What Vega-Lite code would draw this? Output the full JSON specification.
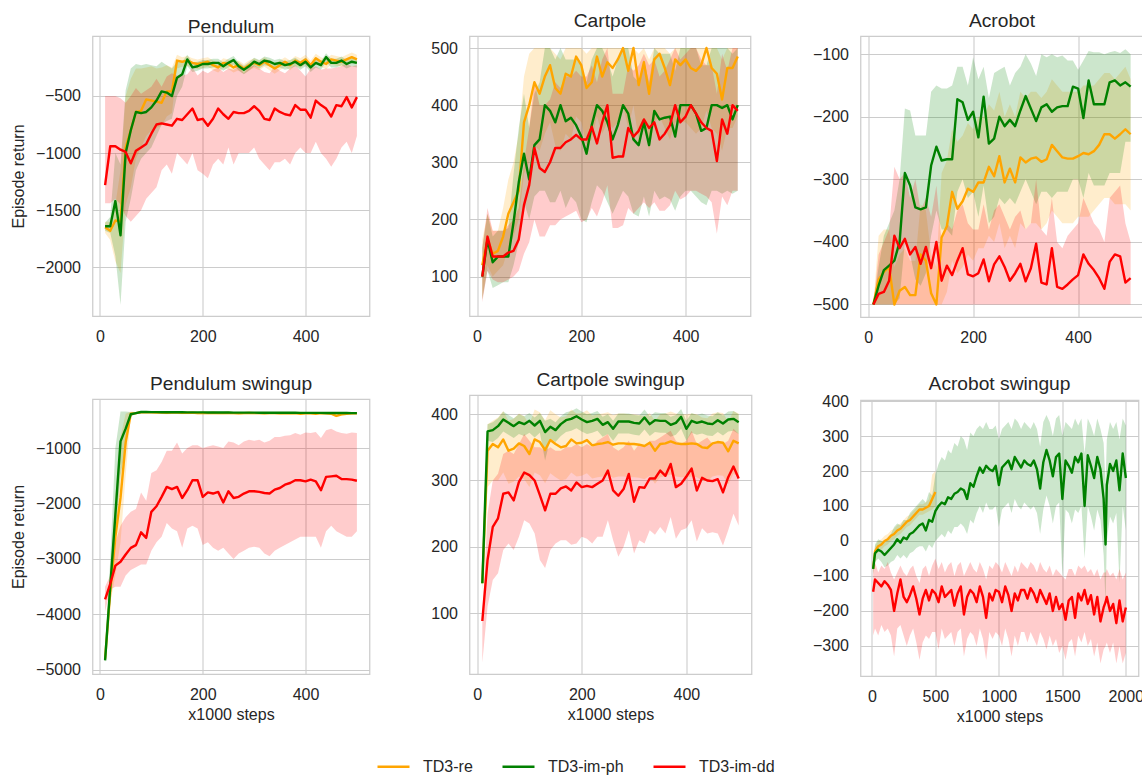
{
"$schema": "https://vega.github.io/schema/vega-lite/v6.json",
"background": "white",
"padding": {"left": 9.5, "top": 11, "right": 0, "bottom": 0},
"config": {
 "font": "Liberation Sans",
 "numberFormat": "d",
 "view": {"stroke": "#cccccc", "strokeWidth": 1.25},
 "axis": {"grid": true, "gridColor": "#cccccc", "gridWidth": 1.1, "domain": false, "ticks": false, "tickSize": 0, "labelOverlap": false, "labelFont": "Liberation Sans", "labelFontSize": 16, "labelColor": "#262626", "labelPadding": 12, "labelFlush": false, "titleFont": "Liberation Sans", "titleFontSize": 16, "titleFontWeight": "normal", "titleColor": "#262626", "titlePadding": 9},
 "axisX": {"titlePadding": 4},
 "title": {"font": "Liberation Sans", "fontSize": 19.2, "fontWeight": "normal", "color": "#262626", "offset": 5, "baseline": "bottom", "frame": "group"},
 "area": {"opacity": 0.2},
 "line": {"strokeWidth": 2.4, "strokeJoin": "round"},
 "legend": {"labelFont": "Liberation Sans", "labelFontSize": 16, "labelColor": "#262626"}
},
"datasets": {
"pend": [
{"x":10,"r":-1650,"rl":-1700,"rh":-1600,"g":-1640,"gl":-1680,"gh":-1610,"d":-1280,"dl":-1440,"dh":-500},
{"x":20,"r":-1680,"rl":-1760,"rh":-1600,"g":-1640,"gl":-1700,"gh":-1560,"d":-940,"dl":-1440,"dh":-500},
{"x":30,"r":-1590,"rl":-1950,"rh":-1450,"g":-1420,"gl":-1900,"gh":-1000,"d":-940,"dl":-1400,"dh":-500},
{"x":40,"r":-1600,"rl":-2050,"rh":-1150,"g":-1720,"gl":-2330,"gh":-1100,"d":-970,"dl":-1450,"dh":-520},
{"x":50,"r":-950,"rl":-1450,"rh":-500,"g":-1000,"gl":-1600,"gh":-450,"d":-990,"dl":-1550,"dh":-560},
{"x":60,"r":-800,"rl":-1300,"rh":-350,"g":-800,"gl":-1400,"gh":-260,"d":-1090,"dl":-1600,"dh":-500},
{"x":70,"r":-640,"rl":-1050,"rh":-260,"g":-640,"gl":-1150,"gh":-220,"d":-980,"dl":-1550,"dh":-430},
{"x":80,"r":-630,"rl":-950,"rh":-260,"g":-650,"gl":-1050,"gh":-230,"d":-950,"dl":-1500,"dh":-480},
{"x":90,"r":-530,"rl":-850,"rh":-250,"g":-640,"gl":-1000,"gh":-220,"d":-920,"dl":-1400,"dh":-450},
{"x":100,"r":-540,"rl":-800,"rh":-240,"g":-600,"gl":-950,"gh":-230,"d":-830,"dl":-1350,"dh":-420},
{"x":110,"r":-550,"rl":-780,"rh":-260,"g":-540,"gl":-850,"gh":-240,"d":-750,"dl":-1300,"dh":-350},
{"x":120,"r":-560,"rl":-760,"rh":-250,"g":-460,"gl":-750,"gh":-200,"d":-740,"dl":-1150,"dh":-420},
{"x":130,"r":-460,"rl":-680,"rh":-230,"g":-470,"gl":-720,"gh":-230,"d":-750,"dl":-1100,"dh":-330},
{"x":140,"r":-460,"rl":-650,"rh":-250,"g":-500,"gl":-700,"gh":-260,"d":-760,"dl":-1180,"dh":-300},
{"x":150,"r":-190,"rl":-260,"rh":-140,"g":-340,"gl":-500,"gh":-200,"d":-700,"dl":-1000,"dh":-320},
{"x":160,"r":-200,"rl":-245,"rh":-160,"g":-310,"gl":-420,"gh":-200,"d":-710,"dl":-1050,"dh":-320},
{"x":170,"r":-190,"rl":-235,"rh":-150,"g":-180,"gl":-240,"gh":-140,"d":-660,"dl":-1100,"dh":-310},
{"x":180,"r":-210,"rl":-255,"rh":-170,"g":-250,"gl":-290,"gh":-210,"d":-610,"dl":-1000,"dh":-250},
{"x":190,"r":-220,"rl":-265,"rh":-180,"g":-240,"gl":-280,"gh":-200,"d":-710,"dl":-1150,"dh":-320},
{"x":200,"r":-210,"rl":-255,"rh":-170,"g":-220,"gl":-260,"gh":-185,"d":-700,"dl":-1180,"dh":-280},
{"x":210,"r":-200,"rl":-245,"rh":-160,"g":-220,"gl":-260,"gh":-185,"d":-760,"dl":-1220,"dh":-300},
{"x":220,"r":-230,"rl":-275,"rh":-190,"g":-210,"gl":-250,"gh":-175,"d":-700,"dl":-1100,"dh":-270},
{"x":230,"r":-250,"rl":-295,"rh":-210,"g":-210,"gl":-250,"gh":-175,"d":-610,"dl":-1050,"dh":-250},
{"x":240,"r":-210,"rl":-255,"rh":-170,"g":-240,"gl":-280,"gh":-205,"d":-660,"dl":-1100,"dh":-290},
{"x":250,"r":-220,"rl":-265,"rh":-180,"g":-210,"gl":-250,"gh":-175,"d":-700,"dl":-950,"dh":-260},
{"x":260,"r":-250,"rl":-295,"rh":-210,"g":-185,"gl":-225,"gh":-150,"d":-640,"dl":-1100,"dh":-270},
{"x":270,"r":-230,"rl":-275,"rh":-190,"g":-240,"gl":-280,"gh":-205,"d":-650,"dl":-1000,"dh":-240},
{"x":280,"r":-260,"rl":-305,"rh":-220,"g":-270,"gl":-310,"gh":-235,"d":-650,"dl":-1000,"dh":-300},
{"x":290,"r":-230,"rl":-275,"rh":-190,"g":-240,"gl":-280,"gh":-205,"d":-630,"dl":-1000,"dh":-250},
{"x":300,"r":-210,"rl":-255,"rh":-170,"g":-200,"gl":-240,"gh":-165,"d":-590,"dl":-950,"dh":-230},
{"x":310,"r":-230,"rl":-275,"rh":-190,"g":-220,"gl":-260,"gh":-185,"d":-630,"dl":-1050,"dh":-260},
{"x":320,"r":-200,"rl":-245,"rh":-160,"g":-190,"gl":-230,"gh":-155,"d":-700,"dl":-1100,"dh":-290},
{"x":330,"r":-230,"rl":-275,"rh":-190,"g":-200,"gl":-240,"gh":-165,"d":-710,"dl":-1150,"dh":-300},
{"x":340,"r":-260,"rl":-305,"rh":-220,"g":-220,"gl":-260,"gh":-185,"d":-610,"dl":-1080,"dh":-240},
{"x":350,"r":-230,"rl":-275,"rh":-190,"g":-210,"gl":-250,"gh":-175,"d":-640,"dl":-1080,"dh":-280},
{"x":360,"r":-200,"rl":-245,"rh":-160,"g":-230,"gl":-270,"gh":-195,"d":-660,"dl":-1050,"dh":-300},
{"x":370,"r":-230,"rl":-275,"rh":-190,"g":-220,"gl":-260,"gh":-185,"d":-670,"dl":-1100,"dh":-260},
{"x":380,"r":-190,"rl":-235,"rh":-150,"g":-200,"gl":-240,"gh":-165,"d":-580,"dl":-1000,"dh":-230},
{"x":390,"r":-210,"rl":-255,"rh":-170,"g":-230,"gl":-270,"gh":-195,"d":-620,"dl":-950,"dh":-280},
{"x":400,"r":-180,"rl":-225,"rh":-140,"g":-200,"gl":-240,"gh":-165,"d":-620,"dl":-1000,"dh":-330},
{"x":410,"r":-230,"rl":-275,"rh":-190,"g":-250,"gl":-290,"gh":-215,"d":-690,"dl":-1000,"dh":-260},
{"x":420,"r":-170,"rl":-215,"rh":-130,"g":-210,"gl":-250,"gh":-175,"d":-540,"dl":-900,"dh":-240},
{"x":430,"r":-200,"rl":-245,"rh":-160,"g":-230,"gl":-270,"gh":-195,"d":-580,"dl":-1000,"dh":-270},
{"x":440,"r":-220,"rl":-265,"rh":-180,"g":-160,"gl":-200,"gh":-125,"d":-610,"dl":-1050,"dh":-260},
{"x":450,"r":-180,"rl":-225,"rh":-140,"g":-210,"gl":-250,"gh":-175,"d":-680,"dl":-1120,"dh":-260},
{"x":460,"r":-190,"rl":-235,"rh":-150,"g":-210,"gl":-250,"gh":-175,"d":-580,"dl":-1050,"dh":-250},
{"x":470,"r":-200,"rl":-245,"rh":-160,"g":-190,"gl":-230,"gh":-155,"d":-590,"dl":-950,"dh":-240},
{"x":480,"r":-180,"rl":-225,"rh":-140,"g":-220,"gl":-260,"gh":-185,"d":-510,"dl":-900,"dh":-220},
{"x":490,"r":-160,"rl":-205,"rh":-120,"g":-200,"gl":-240,"gh":-165,"d":-600,"dl":-1000,"dh":-240},
{"x":500,"r":-180,"rl":-225,"rh":-140,"g":-210,"gl":-250,"gh":-175,"d":-510,"dl":-850,"dh":-230}
],
"cart": [
{"x":10,"r":120,"rl":60,"rh":165,"g":100,"gl":60,"gh":150,"d":100,"dl":55,"dh":150},
{"x":20,"r":165,"rl":120,"rh":210,"g":165,"gl":110,"gh":210,"d":170,"dl":110,"dh":220},
{"x":30,"r":140,"rl":100,"rh":180,"g":125,"gl":80,"gh":170,"d":135,"dl":95,"dh":180},
{"x":40,"r":145,"rl":110,"rh":180,"g":135,"gl":85,"gh":180,"d":135,"dl":90,"dh":180},
{"x":50,"r":170,"rl":120,"rh":220,"g":135,"gl":90,"gh":180,"d":135,"dl":90,"dh":180},
{"x":60,"r":210,"rl":150,"rh":270,"g":135,"gl":90,"gh":185,"d":142,"dl":95,"dh":190},
{"x":70,"r":230,"rl":170,"rh":300,"g":195,"gl":120,"gh":280,"d":145,"dl":100,"dh":200},
{"x":80,"r":250,"rl":200,"rh":350,"g":265,"gl":160,"gh":360,"d":165,"dl":110,"dh":220},
{"x":90,"r":370,"rl":280,"rh":450,"g":315,"gl":230,"gh":420,"d":225,"dl":140,"dh":300},
{"x":100,"r":400,"rl":300,"rh":490,"g":270,"gl":200,"gh":360,"d":260,"dl":160,"dh":360},
{"x":110,"r":440,"rl":330,"rh":500,"g":330,"gl":240,"gh":420,"d":325,"dl":200,"dh":440},
{"x":120,"r":420,"rl":320,"rh":500,"g":340,"gl":250,"gh":440,"d":290,"dl":170,"dh":400},
{"x":130,"r":450,"rl":350,"rh":500,"g":400,"gl":250,"gh":500,"d":283,"dl":170,"dh":400},
{"x":140,"r":470,"rl":370,"rh":500,"g":390,"gl":230,"gh":500,"d":300,"dl":190,"dh":410},
{"x":150,"r":430,"rl":330,"rh":490,"g":370,"gl":230,"gh":480,"d":325,"dl":190,"dh":440},
{"x":160,"r":420,"rl":320,"rh":480,"g":400,"gl":250,"gh":500,"d":325,"dl":200,"dh":430},
{"x":170,"r":455,"rl":350,"rh":500,"g":372,"gl":220,"gh":480,"d":335,"dl":205,"dh":450},
{"x":180,"r":450,"rl":340,"rh":500,"g":378,"gl":240,"gh":480,"d":340,"dl":210,"dh":450},
{"x":190,"r":485,"rl":380,"rh":500,"g":365,"gl":230,"gh":480,"d":348,"dl":215,"dh":460},
{"x":200,"r":470,"rl":370,"rh":500,"g":345,"gl":200,"gh":470,"d":340,"dl":195,"dh":450},
{"x":210,"r":430,"rl":330,"rh":490,"g":315,"gl":195,"gh":440,"d":340,"dl":200,"dh":450},
{"x":220,"r":440,"rl":340,"rh":500,"g":365,"gl":230,"gh":480,"d":362,"dl":220,"dh":470},
{"x":230,"r":485,"rl":380,"rh":500,"g":400,"gl":260,"gh":500,"d":333,"dl":205,"dh":440},
{"x":240,"r":450,"rl":350,"rh":500,"g":390,"gl":250,"gh":500,"d":370,"dl":230,"dh":480},
{"x":250,"r":475,"rl":370,"rh":500,"g":370,"gl":230,"gh":480,"d":400,"dl":260,"dh":500},
{"x":260,"r":465,"rl":360,"rh":500,"g":340,"gl":210,"gh":450,"d":308,"dl":185,"dh":420},
{"x":270,"r":480,"rl":370,"rh":500,"g":365,"gl":230,"gh":480,"d":310,"dl":185,"dh":420},
{"x":280,"r":500,"rl":400,"rh":500,"g":400,"gl":250,"gh":500,"d":310,"dl":190,"dh":420},
{"x":290,"r":460,"rl":360,"rh":500,"g":385,"gl":240,"gh":500,"d":360,"dl":220,"dh":470},
{"x":300,"r":500,"rl":400,"rh":500,"g":340,"gl":210,"gh":450,"d":345,"dl":210,"dh":460},
{"x":310,"r":435,"rl":340,"rh":490,"g":330,"gl":205,"gh":440,"d":355,"dl":220,"dh":470},
{"x":320,"r":475,"rl":370,"rh":500,"g":370,"gl":240,"gh":480,"d":375,"dl":230,"dh":490},
{"x":330,"r":420,"rl":320,"rh":480,"g":330,"gl":205,"gh":440,"d":360,"dl":220,"dh":470},
{"x":340,"r":480,"rl":370,"rh":500,"g":390,"gl":250,"gh":500,"d":370,"dl":230,"dh":480},
{"x":350,"r":490,"rl":380,"rh":500,"g":375,"gl":235,"gh":490,"d":340,"dl":215,"dh":450},
{"x":360,"r":465,"rl":360,"rh":500,"g":378,"gl":240,"gh":490,"d":350,"dl":215,"dh":460},
{"x":370,"r":435,"rl":340,"rh":490,"g":380,"gl":235,"gh":490,"d":365,"dl":225,"dh":480},
{"x":380,"r":480,"rl":370,"rh":500,"g":345,"gl":215,"gh":460,"d":400,"dl":250,"dh":500},
{"x":390,"r":470,"rl":370,"rh":500,"g":400,"gl":240,"gh":500,"d":370,"dl":235,"dh":480},
{"x":400,"r":480,"rl":370,"rh":500,"g":400,"gl":250,"gh":500,"d":380,"dl":240,"dh":490},
{"x":410,"r":465,"rl":360,"rh":500,"g":400,"gl":250,"gh":500,"d":400,"dl":250,"dh":500},
{"x":420,"r":460,"rl":350,"rh":500,"g":385,"gl":240,"gh":500,"d":385,"dl":250,"dh":500},
{"x":430,"r":470,"rl":360,"rh":500,"g":355,"gl":230,"gh":470,"d":370,"dl":245,"dh":480},
{"x":440,"r":500,"rl":390,"rh":500,"g":360,"gl":225,"gh":470,"d":360,"dl":240,"dh":470},
{"x":450,"r":465,"rl":360,"rh":500,"g":400,"gl":250,"gh":500,"d":355,"dl":230,"dh":470},
{"x":460,"r":455,"rl":350,"rh":500,"g":400,"gl":250,"gh":500,"d":302,"dl":175,"dh":420},
{"x":470,"r":410,"rl":320,"rh":480,"g":395,"gl":245,"gh":500,"d":375,"dl":240,"dh":490},
{"x":480,"r":465,"rl":360,"rh":500,"g":400,"gl":250,"gh":500,"d":350,"dl":225,"dh":460},
{"x":490,"r":465,"rl":360,"rh":500,"g":375,"gl":245,"gh":490,"d":400,"dl":250,"dh":500},
{"x":500,"r":485,"rl":380,"rh":500,"g":400,"gl":250,"gh":500,"d":390,"dl":250,"dh":500}
],
"acro": [
{"x":10,"r":-500,"rl":-500,"rh":-500,"g":-500,"gl":-500,"gh":-500,"d":-500,"dl":-500,"dh":-500},
{"x":20,"r":-460,"rl":-500,"rh":-390,"g":-470,"gl":-500,"gh":-440,"d":-483,"dl":-500,"dh":-420},
{"x":30,"r":-448,"rl":-500,"rh":-380,"g":-445,"gl":-500,"gh":-390,"d":-480,"dl":-500,"dh":-400},
{"x":40,"r":-440,"rl":-500,"rh":-380,"g":-438,"gl":-500,"gh":-370,"d":-462,"dl":-500,"dh":-380},
{"x":50,"r":-500,"rl":-500,"rh":-440,"g":-430,"gl":-500,"gh":-350,"d":-390,"dl":-500,"dh":-280},
{"x":60,"r":-478,"rl":-500,"rh":-420,"g":-400,"gl":-490,"gh":-300,"d":-410,"dl":-500,"dh":-300},
{"x":70,"r":-472,"rl":-500,"rh":-410,"g":-290,"gl":-400,"gh":-187,"d":-395,"dl":-500,"dh":-290},
{"x":80,"r":-485,"rl":-500,"rh":-430,"g":-310,"gl":-420,"gh":-190,"d":-420,"dl":-500,"dh":-330},
{"x":90,"r":-485,"rl":-500,"rh":-430,"g":-345,"gl":-460,"gh":-230,"d":-408,"dl":-500,"dh":-300},
{"x":100,"r":-420,"rl":-500,"rh":-340,"g":-348,"gl":-470,"gh":-230,"d":-435,"dl":-500,"dh":-350},
{"x":110,"r":-430,"rl":-500,"rh":-350,"g":-345,"gl":-450,"gh":-230,"d":-408,"dl":-500,"dh":-330},
{"x":120,"r":-482,"rl":-500,"rh":-420,"g":-278,"gl":-390,"gh":-160,"d":-442,"dl":-500,"dh":-360},
{"x":130,"r":-500,"rl":-500,"rh":-440,"g":-248,"gl":-350,"gh":-150,"d":-400,"dl":-500,"dh":-310},
{"x":140,"r":-393,"rl":-500,"rh":-290,"g":-270,"gl":-380,"gh":-155,"d":-462,"dl":-500,"dh":-400},
{"x":150,"r":-375,"rl":-480,"rh":-270,"g":-268,"gl":-380,"gh":-155,"d":-438,"dl":-500,"dh":-370},
{"x":160,"r":-320,"rl":-430,"rh":-220,"g":-268,"gl":-390,"gh":-150,"d":-453,"dl":-500,"dh":-380},
{"x":170,"r":-347,"rl":-450,"rh":-240,"g":-172,"gl":-320,"gh":-120,"d":-430,"dl":-500,"dh":-350},
{"x":180,"r":-335,"rl":-440,"rh":-230,"g":-177,"gl":-300,"gh":-120,"d":-410,"dl":-500,"dh":-340},
{"x":190,"r":-315,"rl":-420,"rh":-210,"g":-205,"gl":-330,"gh":-150,"d":-452,"dl":-500,"dh":-370},
{"x":200,"r":-320,"rl":-430,"rh":-220,"g":-192,"gl":-320,"gh":-105,"d":-455,"dl":-500,"dh":-380},
{"x":210,"r":-305,"rl":-410,"rh":-200,"g":-233,"gl":-360,"gh":-140,"d":-450,"dl":-500,"dh":-380},
{"x":220,"r":-305,"rl":-410,"rh":-200,"g":-168,"gl":-310,"gh":-120,"d":-428,"dl":-500,"dh":-340},
{"x":230,"r":-280,"rl":-390,"rh":-180,"g":-243,"gl":-370,"gh":-170,"d":-463,"dl":-500,"dh":-380},
{"x":240,"r":-295,"rl":-400,"rh":-190,"g":-235,"gl":-360,"gh":-130,"d":-436,"dl":-500,"dh":-350},
{"x":250,"r":-263,"rl":-370,"rh":-160,"g":-200,"gl":-330,"gh":-125,"d":-423,"dl":-500,"dh":-340},
{"x":260,"r":-305,"rl":-410,"rh":-200,"g":-215,"gl":-340,"gh":-120,"d":-440,"dl":-500,"dh":-360},
{"x":270,"r":-283,"rl":-390,"rh":-180,"g":-205,"gl":-330,"gh":-150,"d":-462,"dl":-500,"dh":-380},
{"x":280,"r":-305,"rl":-410,"rh":-200,"g":-215,"gl":-340,"gh":-130,"d":-450,"dl":-500,"dh":-360},
{"x":290,"r":-265,"rl":-370,"rh":-160,"g":-190,"gl":-320,"gh":-120,"d":-435,"dl":-500,"dh":-350},
{"x":300,"r":-273,"rl":-380,"rh":-170,"g":-167,"gl":-300,"gh":-100,"d":-463,"dl":-500,"dh":-380},
{"x":310,"r":-267,"rl":-370,"rh":-160,"g":-187,"gl":-320,"gh":-115,"d":-442,"dl":-500,"dh":-370},
{"x":320,"r":-265,"rl":-370,"rh":-160,"g":-207,"gl":-340,"gh":-135,"d":-403,"dl":-500,"dh":-300},
{"x":330,"r":-272,"rl":-380,"rh":-170,"g":-185,"gl":-320,"gh":-100,"d":-465,"dl":-500,"dh":-380},
{"x":340,"r":-268,"rl":-370,"rh":-160,"g":-180,"gl":-320,"gh":-105,"d":-468,"dl":-500,"dh":-390},
{"x":350,"r":-245,"rl":-350,"rh":-140,"g":-192,"gl":-330,"gh":-100,"d":-410,"dl":-500,"dh":-330},
{"x":360,"r":-255,"rl":-360,"rh":-150,"g":-185,"gl":-320,"gh":-105,"d":-472,"dl":-500,"dh":-400},
{"x":370,"r":-265,"rl":-370,"rh":-160,"g":-183,"gl":-320,"gh":-102,"d":-475,"dl":-500,"dh":-410},
{"x":380,"r":-267,"rl":-370,"rh":-160,"g":-183,"gl":-320,"gh":-110,"d":-468,"dl":-500,"dh":-390},
{"x":390,"r":-267,"rl":-370,"rh":-160,"g":-152,"gl":-300,"gh":-110,"d":-460,"dl":-500,"dh":-380},
{"x":400,"r":-263,"rl":-360,"rh":-160,"g":-155,"gl":-300,"gh":-125,"d":-453,"dl":-500,"dh":-370},
{"x":410,"r":-258,"rl":-360,"rh":-150,"g":-202,"gl":-330,"gh":-110,"d":-420,"dl":-500,"dh":-330},
{"x":420,"r":-260,"rl":-360,"rh":-150,"g":-142,"gl":-290,"gh":-95,"d":-435,"dl":-500,"dh":-350},
{"x":430,"r":-255,"rl":-350,"rh":-150,"g":-180,"gl":-310,"gh":-97,"d":-445,"dl":-500,"dh":-370},
{"x":440,"r":-245,"rl":-340,"rh":-140,"g":-180,"gl":-310,"gh":-97,"d":-458,"dl":-500,"dh":-380},
{"x":450,"r":-228,"rl":-330,"rh":-130,"g":-180,"gl":-310,"gh":-100,"d":-475,"dl":-500,"dh":-400},
{"x":460,"r":-228,"rl":-330,"rh":-130,"g":-145,"gl":-290,"gh":-97,"d":-432,"dl":-500,"dh":-330},
{"x":470,"r":-235,"rl":-340,"rh":-140,"g":-142,"gl":-290,"gh":-95,"d":-420,"dl":-500,"dh":-320},
{"x":480,"r":-228,"rl":-340,"rh":-130,"g":-150,"gl":-290,"gh":-98,"d":-423,"dl":-500,"dh":-310},
{"x":490,"r":-220,"rl":-340,"rh":-120,"g":-145,"gl":-240,"gh":-92,"d":-465,"dl":-500,"dh":-370},
{"x":500,"r":-228,"rl":-350,"rh":-140,"g":-152,"gl":-240,"gh":-100,"d":-458,"dl":-500,"dh":-400}
],
"pswing": [
{"x":10,"r":-4800,"rl":-4850,"rh":-4750,"g":-4830,"gl":-4870,"gh":-4800,"d":-3730,"dl":-3950,"dh":-3500},
{"x":20,"r":-3600,"rl":-3800,"rh":-3300,"g":-3500,"gl":-3800,"gh":-3000,"d":-3450,"dl":-3550,"dh":-3300},
{"x":30,"r":-2600,"rl":-3300,"rh":-1900,"g":-2200,"gl":-2600,"gh":-1000,"d":-3120,"dl":-3500,"dh":-2700},
{"x":40,"r":-1900,"rl":-2700,"rh":-800,"g":-880,"gl":-1500,"gh":-340,"d":-3050,"dl":-3500,"dh":-2400},
{"x":50,"r":-900,"rl":-1500,"rh":-380,"g":-650,"gl":-1000,"gh":-340,"d":-2920,"dl":-3300,"dh":-2250},
{"x":60,"r":-380,"rl":-400,"rh":-340,"g":-390,"gl":-420,"gh":-350,"d":-2800,"dl":-3200,"dh":-2150},
{"x":70,"r":-370,"rl":-390,"rh":-350,"g":-370,"gl":-390,"gh":-350,"d":-2750,"dl":-3150,"dh":-2100},
{"x":80,"r":-355,"rl":-375,"rh":-335,"g":-350,"gl":-365,"gh":-335,"d":-2520,"dl":-3100,"dh":-1800},
{"x":90,"r":-355,"rl":-375,"rh":-335,"g":-350,"gl":-365,"gh":-335,"d":-2620,"dl":-3100,"dh":-1950},
{"x":100,"r":-355,"rl":-380,"rh":-335,"g":-352,"gl":-367,"gh":-340,"d":-2150,"dl":-2850,"dh":-1450},
{"x":110,"r":-360,"rl":-385,"rh":-340,"g":-352,"gl":-367,"gh":-340,"d":-2050,"dl":-2700,"dh":-1400},
{"x":120,"r":-360,"rl":-385,"rh":-340,"g":-353,"gl":-368,"gh":-341,"d":-1880,"dl":-2600,"dh":-1250},
{"x":130,"r":-365,"rl":-390,"rh":-345,"g":-353,"gl":-368,"gh":-341,"d":-1700,"dl":-2350,"dh":-1050},
{"x":140,"r":-360,"rl":-385,"rh":-340,"g":-354,"gl":-369,"gh":-342,"d":-1740,"dl":-2450,"dh":-1050},
{"x":150,"r":-360,"rl":-385,"rh":-340,"g":-355,"gl":-370,"gh":-343,"d":-1700,"dl":-2500,"dh":-900},
{"x":160,"r":-365,"rl":-390,"rh":-345,"g":-355,"gl":-370,"gh":-343,"d":-1900,"dl":-2800,"dh":-1100},
{"x":170,"r":-365,"rl":-390,"rh":-345,"g":-356,"gl":-371,"gh":-344,"d":-1760,"dl":-2450,"dh":-1000},
{"x":180,"r":-360,"rl":-385,"rh":-340,"g":-356,"gl":-371,"gh":-344,"d":-1580,"dl":-2400,"dh":-950},
{"x":190,"r":-370,"rl":-395,"rh":-350,"g":-357,"gl":-372,"gh":-345,"d":-1580,"dl":-2450,"dh":-950},
{"x":200,"r":-365,"rl":-390,"rh":-345,"g":-357,"gl":-372,"gh":-345,"d":-1880,"dl":-2750,"dh":-1000},
{"x":210,"r":-370,"rl":-395,"rh":-350,"g":-358,"gl":-373,"gh":-346,"d":-1800,"dl":-2700,"dh":-970},
{"x":220,"r":-365,"rl":-390,"rh":-345,"g":-358,"gl":-373,"gh":-346,"d":-1820,"dl":-2800,"dh":-950},
{"x":230,"r":-370,"rl":-395,"rh":-350,"g":-358,"gl":-373,"gh":-346,"d":-1790,"dl":-2850,"dh":-970},
{"x":240,"r":-370,"rl":-395,"rh":-350,"g":-359,"gl":-374,"gh":-347,"d":-1980,"dl":-2800,"dh":-1000},
{"x":250,"r":-365,"rl":-390,"rh":-345,"g":-359,"gl":-374,"gh":-347,"d":-1780,"dl":-2900,"dh":-880},
{"x":260,"r":-370,"rl":-395,"rh":-350,"g":-360,"gl":-375,"gh":-348,"d":-1900,"dl":-3000,"dh":-900},
{"x":270,"r":-375,"rl":-400,"rh":-355,"g":-360,"gl":-375,"gh":-348,"d":-1880,"dl":-2900,"dh":-950},
{"x":280,"r":-370,"rl":-395,"rh":-350,"g":-360,"gl":-375,"gh":-348,"d":-1820,"dl":-2850,"dh":-880},
{"x":290,"r":-365,"rl":-390,"rh":-345,"g":-361,"gl":-376,"gh":-349,"d":-1780,"dl":-2800,"dh":-850},
{"x":300,"r":-370,"rl":-395,"rh":-350,"g":-361,"gl":-376,"gh":-349,"d":-1780,"dl":-2780,"dh":-870},
{"x":310,"r":-370,"rl":-395,"rh":-350,"g":-362,"gl":-377,"gh":-350,"d":-1790,"dl":-2800,"dh":-850},
{"x":320,"r":-375,"rl":-400,"rh":-355,"g":-362,"gl":-377,"gh":-350,"d":-1810,"dl":-2900,"dh":-900},
{"x":330,"r":-370,"rl":-395,"rh":-350,"g":-362,"gl":-377,"gh":-350,"d":-1820,"dl":-2950,"dh":-870},
{"x":340,"r":-370,"rl":-395,"rh":-350,"g":-363,"gl":-378,"gh":-351,"d":-1750,"dl":-2850,"dh":-800},
{"x":350,"r":-375,"rl":-400,"rh":-355,"g":-363,"gl":-378,"gh":-351,"d":-1720,"dl":-2800,"dh":-800},
{"x":360,"r":-370,"rl":-395,"rh":-350,"g":-364,"gl":-379,"gh":-352,"d":-1660,"dl":-2750,"dh":-780},
{"x":370,"r":-375,"rl":-400,"rh":-355,"g":-364,"gl":-379,"gh":-352,"d":-1630,"dl":-2700,"dh":-770},
{"x":380,"r":-370,"rl":-395,"rh":-350,"g":-364,"gl":-379,"gh":-352,"d":-1580,"dl":-2650,"dh":-730},
{"x":390,"r":-380,"rl":-405,"rh":-360,"g":-365,"gl":-380,"gh":-353,"d":-1580,"dl":-2600,"dh":-760},
{"x":400,"r":-375,"rl":-400,"rh":-355,"g":-365,"gl":-380,"gh":-353,"d":-1600,"dl":-2600,"dh":-720},
{"x":410,"r":-375,"rl":-400,"rh":-355,"g":-366,"gl":-381,"gh":-354,"d":-1570,"dl":-2600,"dh":-730},
{"x":420,"r":-380,"rl":-405,"rh":-360,"g":-366,"gl":-381,"gh":-354,"d":-1600,"dl":-2600,"dh":-710},
{"x":430,"r":-370,"rl":-395,"rh":-350,"g":-366,"gl":-381,"gh":-354,"d":-1760,"dl":-2800,"dh":-820},
{"x":440,"r":-375,"rl":-400,"rh":-355,"g":-367,"gl":-382,"gh":-355,"d":-1520,"dl":-2500,"dh":-680},
{"x":450,"r":-380,"rl":-405,"rh":-360,"g":-367,"gl":-382,"gh":-355,"d":-1510,"dl":-2400,"dh":-650},
{"x":460,"r":-420,"rl":-445,"rh":-400,"g":-368,"gl":-383,"gh":-356,"d":-1500,"dl":-2500,"dh":-700},
{"x":470,"r":-390,"rl":-415,"rh":-370,"g":-368,"gl":-383,"gh":-356,"d":-1560,"dl":-2550,"dh":-730},
{"x":480,"r":-380,"rl":-405,"rh":-360,"g":-368,"gl":-383,"gh":-356,"d":-1560,"dl":-2600,"dh":-740},
{"x":490,"r":-375,"rl":-400,"rh":-355,"g":-369,"gl":-384,"gh":-357,"d":-1570,"dl":-2600,"dh":-720},
{"x":500,"r":-375,"rl":-400,"rh":-355,"g":-370,"gl":-385,"gh":-358,"d":-1590,"dl":-2500,"dh":-730}
],
"cswing": [
{"x":10,"r":145,"rl":130,"rh":160,"g":145,"gl":135,"gh":160,"d":88,"dl":25,"dh":95},
{"x":20,"r":345,"rl":290,"rh":385,"g":374,"gl":360,"gh":385,"d":180,"dl":110,"dh":250},
{"x":30,"r":355,"rl":300,"rh":390,"g":376,"gl":358,"gh":388,"d":230,"dl":150,"dh":300},
{"x":40,"r":350,"rl":300,"rh":395,"g":382,"gl":364,"gh":394,"d":243,"dl":160,"dh":310},
{"x":50,"r":362,"rl":312,"rh":405,"g":392,"gl":374,"gh":404,"d":280,"dl":195,"dh":340},
{"x":60,"r":345,"rl":295,"rh":390,"g":387,"gl":369,"gh":399,"d":282,"dl":205,"dh":345},
{"x":70,"r":348,"rl":298,"rh":393,"g":382,"gl":364,"gh":394,"d":270,"dl":195,"dh":340},
{"x":80,"r":356,"rl":306,"rh":401,"g":388,"gl":370,"gh":400,"d":298,"dl":215,"dh":355},
{"x":90,"r":352,"rl":302,"rh":397,"g":385,"gl":367,"gh":397,"d":312,"dl":240,"dh":370},
{"x":100,"r":340,"rl":290,"rh":385,"g":390,"gl":372,"gh":402,"d":308,"dl":235,"dh":360},
{"x":110,"r":362,"rl":312,"rh":407,"g":383,"gl":365,"gh":395,"d":300,"dl":220,"dh":350},
{"x":120,"r":358,"rl":308,"rh":403,"g":390,"gl":372,"gh":402,"d":278,"dl":180,"dh":350},
{"x":130,"r":346,"rl":296,"rh":391,"g":373,"gl":330,"gh":390,"d":255,"dl":168,"dh":345},
{"x":140,"r":361,"rl":311,"rh":406,"g":381,"gl":363,"gh":393,"d":280,"dl":195,"dh":350},
{"x":150,"r":355,"rl":305,"rh":400,"g":376,"gl":358,"gh":388,"d":280,"dl":205,"dh":345},
{"x":160,"r":350,"rl":300,"rh":395,"g":385,"gl":367,"gh":397,"d":288,"dl":210,"dh":345},
{"x":170,"r":352,"rl":302,"rh":397,"g":391,"gl":373,"gh":403,"d":291,"dl":210,"dh":350},
{"x":180,"r":362,"rl":312,"rh":407,"g":393,"gl":375,"gh":405,"d":285,"dl":203,"dh":350},
{"x":190,"r":356,"rl":306,"rh":401,"g":397,"gl":379,"gh":409,"d":297,"dl":205,"dh":355},
{"x":200,"r":357,"rl":307,"rh":402,"g":392,"gl":374,"gh":404,"d":290,"dl":215,"dh":350},
{"x":210,"r":361,"rl":311,"rh":406,"g":388,"gl":370,"gh":400,"d":292,"dl":212,"dh":355},
{"x":220,"r":353,"rl":303,"rh":398,"g":390,"gl":372,"gh":402,"d":290,"dl":205,"dh":350},
{"x":230,"r":355,"rl":305,"rh":400,"g":393,"gl":375,"gh":405,"d":295,"dl":215,"dh":360},
{"x":240,"r":356,"rl":306,"rh":401,"g":384,"gl":366,"gh":396,"d":300,"dl":215,"dh":365},
{"x":250,"r":358,"rl":308,"rh":403,"g":388,"gl":370,"gh":400,"d":315,"dl":240,"dh":370},
{"x":260,"r":354,"rl":304,"rh":399,"g":378,"gl":360,"gh":390,"d":285,"dl":210,"dh":350},
{"x":270,"r":356,"rl":306,"rh":401,"g":389,"gl":371,"gh":401,"d":277,"dl":185,"dh":345},
{"x":280,"r":356,"rl":306,"rh":401,"g":389,"gl":371,"gh":401,"d":287,"dl":200,"dh":350},
{"x":290,"r":355,"rl":305,"rh":400,"g":389,"gl":371,"gh":401,"d":310,"dl":225,"dh":360},
{"x":300,"r":355,"rl":305,"rh":400,"g":387,"gl":369,"gh":399,"d":268,"dl":190,"dh":345},
{"x":310,"r":354,"rl":304,"rh":399,"g":386,"gl":368,"gh":398,"d":290,"dl":210,"dh":355},
{"x":320,"r":352,"rl":302,"rh":397,"g":395,"gl":377,"gh":407,"d":289,"dl":205,"dh":350},
{"x":330,"r":357,"rl":307,"rh":402,"g":385,"gl":367,"gh":397,"d":303,"dl":225,"dh":360},
{"x":340,"r":345,"rl":295,"rh":390,"g":391,"gl":373,"gh":403,"d":303,"dl":218,"dh":360},
{"x":350,"r":355,"rl":305,"rh":400,"g":390,"gl":372,"gh":402,"d":315,"dl":230,"dh":365},
{"x":360,"r":356,"rl":306,"rh":401,"g":390,"gl":372,"gh":402,"d":307,"dl":220,"dh":370},
{"x":370,"r":359,"rl":309,"rh":404,"g":384,"gl":366,"gh":396,"d":325,"dl":245,"dh":375},
{"x":380,"r":356,"rl":306,"rh":401,"g":387,"gl":369,"gh":399,"d":290,"dl":212,"dh":360},
{"x":390,"r":355,"rl":305,"rh":400,"g":396,"gl":378,"gh":408,"d":295,"dl":225,"dh":355},
{"x":400,"r":355,"rl":305,"rh":400,"g":378,"gl":360,"gh":390,"d":306,"dl":228,"dh":360},
{"x":410,"r":356,"rl":306,"rh":401,"g":390,"gl":372,"gh":402,"d":318,"dl":240,"dh":375},
{"x":420,"r":355,"rl":305,"rh":400,"g":387,"gl":369,"gh":399,"d":285,"dl":208,"dh":355},
{"x":430,"r":350,"rl":300,"rh":395,"g":389,"gl":371,"gh":401,"d":304,"dl":228,"dh":360},
{"x":440,"r":349,"rl":299,"rh":394,"g":386,"gl":368,"gh":398,"d":300,"dl":220,"dh":365},
{"x":450,"r":356,"rl":306,"rh":401,"g":385,"gl":367,"gh":397,"d":299,"dl":222,"dh":355},
{"x":460,"r":358,"rl":308,"rh":403,"g":391,"gl":373,"gh":403,"d":302,"dl":220,"dh":360},
{"x":470,"r":357,"rl":307,"rh":402,"g":386,"gl":368,"gh":398,"d":282,"dl":202,"dh":355},
{"x":480,"r":344,"rl":294,"rh":389,"g":392,"gl":374,"gh":404,"d":305,"dl":225,"dh":360},
{"x":490,"r":360,"rl":310,"rh":405,"g":393,"gl":375,"gh":405,"d":321,"dl":250,"dh":378},
{"x":500,"r":356,"rl":306,"rh":401,"g":388,"gl":370,"gh":400,"d":303,"dl":232,"dh":370}
],
"aswing": [
{"x":10,"r":-80,"rl":-95,"rh":-60,"g":-80,"gl":-95,"gh":-60,"d":-145,"dl":-270,"dh":-80},
{"x":25,"r":-30,"rl":-45,"rh":-15,"g":-35,"gl":-60,"gh":-10,"d":-110,"dl":-250,"dh":-60},
{"x":50,"r":-15,"rl":-30,"rh":0,"g":-25,"gl":-50,"gh":5,"d":-120,"dl":-270,"dh":-90},
{"x":75,"r":-10,"rl":-25,"rh":5,"g":-30,"gl":-60,"gh":0,"d":-130,"dl":-240,"dh":-70},
{"x":100,"r":0,"rl":-15,"rh":15,"g":-40,"gl":-75,"gh":-5,"d":-115,"dl":-260,"dh":-80},
{"x":125,"r":5,"rl":-10,"rh":20,"g":-30,"gl":-70,"gh":10,"d":-125,"dl":-250,"dh":-60},
{"x":150,"r":15,"rl":0,"rh":30,"g":-20,"gl":-60,"gh":20,"d":-140,"dl":-270,"dh":-90},
{"x":175,"r":20,"rl":5,"rh":35,"g":-10,"gl":-55,"gh":40,"d":-200,"dl":-330,"dh":-110},
{"x":200,"r":30,"rl":15,"rh":45,"g":5,"gl":-40,"gh":50,"d":-150,"dl":-250,"dh":-90},
{"x":225,"r":35,"rl":20,"rh":50,"g":-5,"gl":-50,"gh":45,"d":-110,"dl":-240,"dh":-70},
{"x":250,"r":45,"rl":30,"rh":60,"g":10,"gl":-40,"gh":60,"d":-160,"dl":-270,"dh":-90},
{"x":275,"r":55,"rl":40,"rh":70,"g":5,"gl":-50,"gh":60,"d":-175,"dl":-300,"dh":-100},
{"x":300,"r":60,"rl":45,"rh":75,"g":20,"gl":-35,"gh":80,"d":-155,"dl":-270,"dh":-80},
{"x":325,"r":70,"rl":55,"rh":85,"g":25,"gl":-30,"gh":90,"d":-130,"dl":-250,"dh":-70},
{"x":350,"r":80,"rl":65,"rh":95,"g":35,"gl":-20,"gh":100,"d":-165,"dl":-290,"dh":-100},
{"x":375,"r":90,"rl":75,"rh":105,"g":45,"gl":-15,"gh":110,"d":-210,"dl":-340,"dh":-120},
{"x":400,"r":90,"rl":75,"rh":105,"g":50,"gl":-15,"gh":120,"d":-165,"dl":-290,"dh":-80},
{"x":425,"r":95,"rl":80,"rh":110,"g":30,"gl":-30,"gh":110,"d":-140,"dl":-270,"dh":-70},
{"x":450,"r":100,"rl":85,"rh":120,"g":60,"gl":-10,"gh":140,"d":-170,"dl":-280,"dh":-100},
{"x":475,"r":120,"rl":90,"rh":190,"g":55,"gl":-20,"gh":130,"d":-140,"dl":-260,"dh":-70},
{"x":500,"r":140,"rl":100,"rh":200,"g":85,"gl":0,"gh":190,"d":-150,"dl":-260,"dh":-50},
{"x":525,"g":100,"gl":10,"gh":220,"d":-175,"dl":-310,"dh":-80},
{"x":550,"g":110,"gl":20,"gh":240,"d":-130,"dl":-250,"dh":-60},
{"x":575,"g":105,"gl":10,"gh":230,"d":-160,"dl":-280,"dh":-90},
{"x":600,"g":125,"gl":30,"gh":260,"d":-150,"dl":-270,"dh":-70},
{"x":625,"g":120,"gl":20,"gh":250,"d":-140,"dl":-260,"dh":-60},
{"x":650,"g":135,"gl":40,"gh":280,"d":-185,"dl":-300,"dh":-100},
{"x":675,"g":140,"gl":40,"gh":270,"d":-150,"dl":-260,"dh":-70},
{"x":700,"g":150,"gl":50,"gh":300,"d":-130,"dl":-250,"dh":-60},
{"x":725,"g":145,"gl":40,"gh":290,"d":-210,"dl":-330,"dh":-100},
{"x":750,"g":120,"gl":20,"gh":260,"d":-160,"dl":-280,"dh":-80},
{"x":775,"g":165,"gl":60,"gh":310,"d":-140,"dl":-260,"dh":-60},
{"x":800,"g":155,"gl":50,"gh":300,"d":-150,"dl":-270,"dh":-80},
{"x":825,"g":185,"gl":80,"gh":320,"d":-175,"dl":-300,"dh":-90},
{"x":850,"g":210,"gl":100,"gh":330,"d":-130,"dl":-250,"dh":-60},
{"x":875,"g":195,"gl":80,"gh":320,"d":-160,"dl":-280,"dh":-80},
{"x":900,"g":215,"gl":110,"gh":340,"d":-220,"dl":-340,"dh":-110},
{"x":925,"g":205,"gl":90,"gh":320,"d":-150,"dl":-260,"dh":-70},
{"x":950,"g":200,"gl":90,"gh":320,"d":-170,"dl":-280,"dh":-80},
{"x":975,"g":215,"gl":100,"gh":330,"d":-140,"dl":-260,"dh":-60},
{"x":1000,"g":160,"gl":40,"gh":290,"d":-145,"dl":-270,"dh":-70},
{"x":1025,"g":210,"gl":90,"gh":320,"d":-175,"dl":-300,"dh":-90},
{"x":1050,"g":220,"gl":100,"gh":330,"d":-130,"dl":-250,"dh":-60},
{"x":1075,"g":230,"gl":110,"gh":340,"d":-155,"dl":-280,"dh":-80},
{"x":1100,"g":205,"gl":80,"gh":320,"d":-200,"dl":-330,"dh":-100},
{"x":1125,"g":240,"gl":120,"gh":350,"d":-150,"dl":-270,"dh":-70},
{"x":1150,"g":225,"gl":100,"gh":340,"d":-170,"dl":-300,"dh":-90},
{"x":1175,"g":210,"gl":90,"gh":320,"d":-140,"dl":-260,"dh":-60},
{"x":1200,"g":230,"gl":110,"gh":340,"d":-140,"dl":-260,"dh":-70},
{"x":1225,"g":220,"gl":100,"gh":330,"d":-165,"dl":-290,"dh":-80},
{"x":1250,"g":215,"gl":90,"gh":320,"d":-135,"dl":-260,"dh":-60},
{"x":1275,"g":230,"gl":100,"gh":340,"d":-150,"dl":-280,"dh":-70},
{"x":1300,"g":205,"gl":80,"gh":320,"d":-175,"dl":-300,"dh":-90},
{"x":1325,"g":150,"gl":20,"gh":270,"d":-140,"dl":-260,"dh":-60},
{"x":1350,"g":225,"gl":90,"gh":340,"d":-160,"dl":-280,"dh":-80},
{"x":1375,"g":260,"gl":130,"gh":360,"d":-180,"dl":-310,"dh":-90},
{"x":1400,"g":230,"gl":100,"gh":340,"d":-150,"dl":-270,"dh":-70},
{"x":1425,"g":185,"gl":50,"gh":300,"d":-200,"dl":-300,"dh":-100},
{"x":1450,"g":240,"gl":100,"gh":350,"d":-160,"dl":-280,"dh":-80},
{"x":1475,"g":250,"gl":110,"gh":360,"d":-195,"dl":-320,"dh":-90},
{"x":1500,"g":120,"gl":-100,"gh":300,"d":-180,"dl":-300,"dh":-100},
{"x":1525,"g":230,"gl":90,"gh":340,"d":-225,"dl":-340,"dh":-110},
{"x":1550,"g":215,"gl":80,"gh":330,"d":-170,"dl":-290,"dh":-80},
{"x":1575,"g":195,"gl":50,"gh":320,"d":-160,"dl":-280,"dh":-80},
{"x":1600,"g":240,"gl":90,"gh":350,"d":-220,"dl":-330,"dh":-100},
{"x":1625,"g":225,"gl":80,"gh":330,"d":-150,"dl":-270,"dh":-70},
{"x":1650,"g":250,"gl":100,"gh":350,"d":-170,"dl":-290,"dh":-80},
{"x":1675,"g":100,"gl":-50,"gh":250,"d":-140,"dl":-260,"dh":-70},
{"x":1700,"g":245,"gl":100,"gh":350,"d":-180,"dl":-300,"dh":-90},
{"x":1725,"g":215,"gl":70,"gh":330,"d":-155,"dl":-280,"dh":-80},
{"x":1750,"g":180,"gl":30,"gh":300,"d":-210,"dl":-330,"dh":-100},
{"x":1775,"g":240,"gl":90,"gh":350,"d":-160,"dl":-290,"dh":-80},
{"x":1800,"g":205,"gl":60,"gh":320,"d":-230,"dl":-350,"dh":-110},
{"x":1825,"g":120,"gl":-40,"gh":280,"d":-190,"dl":-310,"dh":-90},
{"x":1840,"g":-10,"gl":-180,"gh":160,"d":-175,"dl":-300,"dh":-90},
{"x":1850,"g":160,"gl":0,"gh":290,"d":-160,"dl":-290,"dh":-80},
{"x":1875,"g":220,"gl":70,"gh":340,"d":-200,"dl":-320,"dh":-100},
{"x":1900,"g":200,"gl":50,"gh":320,"d":-180,"dl":-290,"dh":-90},
{"x":1925,"g":230,"gl":80,"gh":340,"d":-235,"dl":-350,"dh":-110},
{"x":1950,"g":145,"gl":-120,"gh":290,"d":-170,"dl":-300,"dh":-80},
{"x":1975,"g":250,"gl":100,"gh":350,"d":-230,"dl":-350,"dh":-110},
{"x":2000,"g":180,"gl":30,"gh":330,"d":-190,"dl":-320,"dh":-90}
]
},
"align": "none",
"spacing": 59,
"hconcat": [
{"spacing": 29, "vconcat": [
 {"title": {"text": "Pendulum", "dy": 6}, "width": 277, "height": 280, "data": {"name": "pend"},
  "encoding": {"x": {"field": "x", "type": "quantitative", "title": null, "scale": {"domain": [-14.5, 524.5], "nice": false, "zero": false}, "axis": {"values": [0, 200, 400]}}},
  "layer": [
   {"mark": "area", "encoding": {"y": {"field": "rl", "type": "quantitative", "title": "Episode return", "scale": {"domain": [-2426, 25], "nice": false, "zero": false}, "axis": {"values": [-2000, -1500, -1000, -500], "tickCount": 10}}, "y2": {"field": "rh"}, "fill": {"datum": "TD3-re", "type": "nominal", "scale": {"domain": ["TD3-re", "TD3-im-ph", "TD3-im-dd"], "range": ["#ffa500", "#008000", "#ff0000"]}, "legend": null}}},
   {"mark": "area", "encoding": {"y": {"field": "gl", "type": "quantitative", "title": "Episode return", "scale": {"domain": [-2426, 25], "nice": false, "zero": false}}, "y2": {"field": "gh"}, "fill": {"datum": "TD3-im-ph", "type": "nominal", "scale": {"domain": ["TD3-re", "TD3-im-ph", "TD3-im-dd"], "range": ["#ffa500", "#008000", "#ff0000"]}, "legend": null}}},
   {"mark": "area", "encoding": {"y": {"field": "dl", "type": "quantitative", "title": "Episode return", "scale": {"domain": [-2426, 25], "nice": false, "zero": false}}, "y2": {"field": "dh"}, "fill": {"datum": "TD3-im-dd", "type": "nominal", "scale": {"domain": ["TD3-re", "TD3-im-ph", "TD3-im-dd"], "range": ["#ffa500", "#008000", "#ff0000"]}, "legend": null}}},
   {"transform": [{"fold": ["r", "g", "d"], "as": ["s", "v"]}], "mark": "line", "encoding": {"y": {"field": "v", "type": "quantitative", "title": "Episode return", "scale": {"domain": [-2426, 25], "nice": false, "zero": false}}, "stroke": {"field": "s", "type": "nominal", "scale": {"domain": ["r", "g", "d"], "range": ["#ffa500", "#008000", "#ff0000"]}, "legend": {"title": null, "orient": "none", "legendX": 283.5, "legendY": 713, "direction": "horizontal", "labelExpr": "datum.label == 'r' ? 'TD3-re' : datum.label == 'g' ? 'TD3-im-ph' : 'TD3-im-dd'", "symbolType": "stroke", "symbolSize": 1024, "symbolStrokeWidth": 2.5, "labelFontSize": 16, "labelOffset": 12, "columnPadding": 28, "padding": 0}}}}
  ]},
 {"title": "Pendulum swingup", "width": 277, "height": 275, "data": {"name": "pswing"},
  "encoding": {"x": {"field": "x", "type": "quantitative", "title": "x1000 steps", "scale": {"domain": [-14.5, 524.5], "nice": false, "zero": false}, "axis": {"values": [0, 200, 400]}}},
  "layer": [
   {"mark": "area", "encoding": {"y": {"field": "rl", "type": "quantitative", "title": "Episode return", "scale": {"domain": [-5075, -115], "nice": false, "zero": false}, "axis": {"values": [-5000, -4000, -3000, -2000, -1000], "tickCount": 10}}, "y2": {"field": "rh"}, "fill": {"datum": "TD3-re", "type": "nominal", "scale": {"domain": ["TD3-re", "TD3-im-ph", "TD3-im-dd"], "range": ["#ffa500", "#008000", "#ff0000"]}, "legend": null}}},
   {"mark": "area", "encoding": {"y": {"field": "gl", "type": "quantitative", "title": "Episode return", "scale": {"domain": [-5075, -115], "nice": false, "zero": false}}, "y2": {"field": "gh"}, "fill": {"datum": "TD3-im-ph", "type": "nominal", "scale": {"domain": ["TD3-re", "TD3-im-ph", "TD3-im-dd"], "range": ["#ffa500", "#008000", "#ff0000"]}, "legend": null}}},
   {"mark": "area", "encoding": {"y": {"field": "dl", "type": "quantitative", "title": "Episode return", "scale": {"domain": [-5075, -115], "nice": false, "zero": false}}, "y2": {"field": "dh"}, "fill": {"datum": "TD3-im-dd", "type": "nominal", "scale": {"domain": ["TD3-re", "TD3-im-ph", "TD3-im-dd"], "range": ["#ffa500", "#008000", "#ff0000"]}, "legend": null}}},
   {"transform": [{"fold": ["r", "g", "d"], "as": ["s", "v"]}], "mark": "line", "encoding": {"y": {"field": "v", "type": "quantitative", "title": "Episode return", "scale": {"domain": [-5075, -115], "nice": false, "zero": false}}, "stroke": {"field": "s", "type": "nominal", "scale": {"domain": ["r", "g", "d"], "range": ["#ffa500", "#008000", "#ff0000"]}, "legend": {"title": null, "orient": "none", "legendX": 283.5, "legendY": 713, "direction": "horizontal", "labelExpr": "datum.label == 'r' ? 'TD3-re' : datum.label == 'g' ? 'TD3-im-ph' : 'TD3-im-dd'", "symbolType": "stroke", "symbolSize": 1024, "symbolStrokeWidth": 2.5, "labelFontSize": 16, "labelOffset": 12, "columnPadding": 28, "padding": 0}}}}
  ]}
]},
{"spacing": 25, "vconcat": [
 {"title": "Cartpole", "width": 281, "height": 280, "data": {"name": "cart"},
  "encoding": {"x": {"field": "x", "type": "quantitative", "title": null, "scale": {"domain": [-14.5, 524.5], "nice": false, "zero": false}, "axis": {"values": [0, 200, 400]}}},
  "layer": [
   {"mark": "area", "encoding": {"y": {"field": "rl", "type": "quantitative", "title": null, "scale": {"domain": [31, 521], "nice": false, "zero": false}, "axis": {"values": [100, 200, 300, 400, 500], "tickCount": 10}}, "y2": {"field": "rh"}, "fill": {"datum": "TD3-re", "type": "nominal", "scale": {"domain": ["TD3-re", "TD3-im-ph", "TD3-im-dd"], "range": ["#ffa500", "#008000", "#ff0000"]}, "legend": null}}},
   {"mark": "area", "encoding": {"y": {"field": "gl", "type": "quantitative", "title": null, "scale": {"domain": [31, 521], "nice": false, "zero": false}}, "y2": {"field": "gh"}, "fill": {"datum": "TD3-im-ph", "type": "nominal", "scale": {"domain": ["TD3-re", "TD3-im-ph", "TD3-im-dd"], "range": ["#ffa500", "#008000", "#ff0000"]}, "legend": null}}},
   {"mark": "area", "encoding": {"y": {"field": "dl", "type": "quantitative", "title": null, "scale": {"domain": [31, 521], "nice": false, "zero": false}}, "y2": {"field": "dh"}, "fill": {"datum": "TD3-im-dd", "type": "nominal", "scale": {"domain": ["TD3-re", "TD3-im-ph", "TD3-im-dd"], "range": ["#ffa500", "#008000", "#ff0000"]}, "legend": null}}},
   {"transform": [{"fold": ["r", "g", "d"], "as": ["s", "v"]}], "mark": "line", "encoding": {"y": {"field": "v", "type": "quantitative", "title": null, "scale": {"domain": [31, 521], "nice": false, "zero": false}}, "stroke": {"field": "s", "type": "nominal", "scale": {"domain": ["r", "g", "d"], "range": ["#ffa500", "#008000", "#ff0000"]}, "legend": {"title": null, "orient": "none", "legendX": 283.5, "legendY": 713, "direction": "horizontal", "labelExpr": "datum.label == 'r' ? 'TD3-re' : datum.label == 'g' ? 'TD3-im-ph' : 'TD3-im-dd'", "symbolType": "stroke", "symbolSize": 1024, "symbolStrokeWidth": 2.5, "labelFontSize": 16, "labelOffset": 12, "columnPadding": 28, "padding": 0}}}}
  ]},
 {"title": "Cartpole swingup", "width": 282, "height": 279, "data": {"name": "cswing"},
  "encoding": {"x": {"field": "x", "type": "quantitative", "title": "x1000 steps", "scale": {"domain": [-14.5, 524.5], "nice": false, "zero": false}, "axis": {"values": [0, 200, 400]}}},
  "layer": [
   {"mark": "area", "encoding": {"y": {"field": "rl", "type": "quantitative", "title": null, "scale": {"domain": [8, 429], "nice": false, "zero": false}, "axis": {"values": [100, 200, 300, 400], "tickCount": 10}}, "y2": {"field": "rh"}, "fill": {"datum": "TD3-re", "type": "nominal", "scale": {"domain": ["TD3-re", "TD3-im-ph", "TD3-im-dd"], "range": ["#ffa500", "#008000", "#ff0000"]}, "legend": null}}},
   {"mark": "area", "encoding": {"y": {"field": "gl", "type": "quantitative", "title": null, "scale": {"domain": [8, 429], "nice": false, "zero": false}}, "y2": {"field": "gh"}, "fill": {"datum": "TD3-im-ph", "type": "nominal", "scale": {"domain": ["TD3-re", "TD3-im-ph", "TD3-im-dd"], "range": ["#ffa500", "#008000", "#ff0000"]}, "legend": null}}},
   {"mark": "area", "encoding": {"y": {"field": "dl", "type": "quantitative", "title": null, "scale": {"domain": [8, 429], "nice": false, "zero": false}}, "y2": {"field": "dh"}, "fill": {"datum": "TD3-im-dd", "type": "nominal", "scale": {"domain": ["TD3-re", "TD3-im-ph", "TD3-im-dd"], "range": ["#ffa500", "#008000", "#ff0000"]}, "legend": null}}},
   {"transform": [{"fold": ["r", "g", "d"], "as": ["s", "v"]}], "mark": "line", "encoding": {"y": {"field": "v", "type": "quantitative", "title": null, "scale": {"domain": [8, 429], "nice": false, "zero": false}}, "stroke": {"field": "s", "type": "nominal", "scale": {"domain": ["r", "g", "d"], "range": ["#ffa500", "#008000", "#ff0000"]}, "legend": {"title": null, "orient": "none", "legendX": 283.5, "legendY": 713, "direction": "horizontal", "labelExpr": "datum.label == 'r' ? 'TD3-re' : datum.label == 'g' ? 'TD3-im-ph' : 'TD3-im-dd'", "symbolType": "stroke", "symbolSize": 1024, "symbolStrokeWidth": 2.5, "labelFontSize": 16, "labelOffset": 12, "columnPadding": 28, "padding": 0}}}}
  ]}
]},
{"spacing": 28, "vconcat": [
 {"title": "Acrobot", "width": 283, "height": 281, "data": {"name": "acro"},
  "encoding": {"x": {"field": "x", "type": "quantitative", "title": null, "scale": {"domain": [-14.5, 524.5], "nice": false, "zero": false}, "axis": {"values": [0, 200, 400]}}},
  "layer": [
   {"mark": "area", "encoding": {"y": {"field": "rl", "type": "quantitative", "title": null, "scale": {"domain": [-520, -71], "nice": false, "zero": false}, "axis": {"values": [-500, -400, -300, -200, -100], "tickCount": 10}}, "y2": {"field": "rh"}, "fill": {"datum": "TD3-re", "type": "nominal", "scale": {"domain": ["TD3-re", "TD3-im-ph", "TD3-im-dd"], "range": ["#ffa500", "#008000", "#ff0000"]}, "legend": null}}},
   {"mark": "area", "encoding": {"y": {"field": "gl", "type": "quantitative", "title": null, "scale": {"domain": [-520, -71], "nice": false, "zero": false}}, "y2": {"field": "gh"}, "fill": {"datum": "TD3-im-ph", "type": "nominal", "scale": {"domain": ["TD3-re", "TD3-im-ph", "TD3-im-dd"], "range": ["#ffa500", "#008000", "#ff0000"]}, "legend": null}}},
   {"mark": "area", "encoding": {"y": {"field": "dl", "type": "quantitative", "title": null, "scale": {"domain": [-520, -71], "nice": false, "zero": false}}, "y2": {"field": "dh"}, "fill": {"datum": "TD3-im-dd", "type": "nominal", "scale": {"domain": ["TD3-re", "TD3-im-ph", "TD3-im-dd"], "range": ["#ffa500", "#008000", "#ff0000"]}, "legend": null}}},
   {"transform": [{"fold": ["r", "g", "d"], "as": ["s", "v"]}], "mark": "line", "encoding": {"y": {"field": "v", "type": "quantitative", "title": null, "scale": {"domain": [-520, -71], "nice": false, "zero": false}}, "stroke": {"field": "s", "type": "nominal", "scale": {"domain": ["r", "g", "d"], "range": ["#ffa500", "#008000", "#ff0000"]}, "legend": {"title": null, "orient": "none", "legendX": 283.5, "legendY": 713, "direction": "horizontal", "labelExpr": "datum.label == 'r' ? 'TD3-re' : datum.label == 'g' ? 'TD3-im-ph' : 'TD3-im-dd'", "symbolType": "stroke", "symbolSize": 1024, "symbolStrokeWidth": 2.5, "labelFontSize": 16, "labelOffset": 12, "columnPadding": 28, "padding": 0}}}}
  ]},
 {"title": {"text": "Acrobot swingup", "dy": 6}, "width": 278, "height": 276, "data": {"name": "aswing"},
  "encoding": {"x": {"field": "x", "type": "quantitative", "title": "x1000 steps", "scale": {"domain": [-89.5, 2099.5], "nice": false, "zero": false}, "axis": {"values": [0, 500, 1000, 1500, 2000], "tickCount": 10}}},
  "layer": [
   {"mark": "area", "encoding": {"y": {"field": "rl", "type": "quantitative", "title": null, "scale": {"domain": [-386, 403], "nice": false, "zero": false}, "axis": {"values": [-300, -200, -100, 0, 100, 200, 300, 400], "tickCount": 10}}, "y2": {"field": "rh"}, "fill": {"datum": "TD3-re", "type": "nominal", "scale": {"domain": ["TD3-re", "TD3-im-ph", "TD3-im-dd"], "range": ["#ffa500", "#008000", "#ff0000"]}, "legend": null}}},
   {"mark": "area", "encoding": {"y": {"field": "gl", "type": "quantitative", "title": null, "scale": {"domain": [-386, 403], "nice": false, "zero": false}}, "y2": {"field": "gh"}, "fill": {"datum": "TD3-im-ph", "type": "nominal", "scale": {"domain": ["TD3-re", "TD3-im-ph", "TD3-im-dd"], "range": ["#ffa500", "#008000", "#ff0000"]}, "legend": null}}},
   {"mark": "area", "encoding": {"y": {"field": "dl", "type": "quantitative", "title": null, "scale": {"domain": [-386, 403], "nice": false, "zero": false}}, "y2": {"field": "dh"}, "fill": {"datum": "TD3-im-dd", "type": "nominal", "scale": {"domain": ["TD3-re", "TD3-im-ph", "TD3-im-dd"], "range": ["#ffa500", "#008000", "#ff0000"]}, "legend": null}}},
   {"transform": [{"fold": ["r", "g", "d"], "as": ["s", "v"]}], "mark": "line", "encoding": {"y": {"field": "v", "type": "quantitative", "title": null, "scale": {"domain": [-386, 403], "nice": false, "zero": false}}, "stroke": {"field": "s", "type": "nominal", "scale": {"domain": ["r", "g", "d"], "range": ["#ffa500", "#008000", "#ff0000"]}, "legend": {"title": null, "orient": "none", "legendX": 283.5, "legendY": 713, "direction": "horizontal", "labelExpr": "datum.label == 'r' ? 'TD3-re' : datum.label == 'g' ? 'TD3-im-ph' : 'TD3-im-dd'", "symbolType": "stroke", "symbolSize": 1024, "symbolStrokeWidth": 2.5, "labelFontSize": 16, "labelOffset": 12, "columnPadding": 28, "padding": 0}}}}
  ]}
]}
]
}
